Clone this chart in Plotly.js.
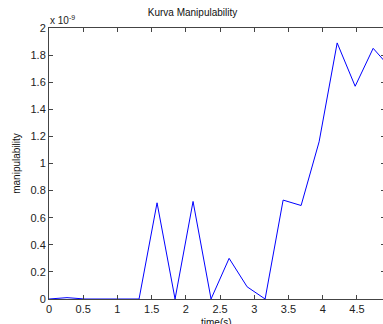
<!DOCTYPE html>
<html><head><meta charset="utf-8">
<script src="https://cdn.plot.ly/plotly-3.0.1.min.js"></script>
<style>html,body{margin:0;padding:0;overflow:hidden;background:#fff}</style>
</head><body><div id="chart"></div>
<script>
const timeS = [0, 0.263, 0.526, 0.789, 1.053, 1.316, 1.579, 1.842, 2.105, 2.368, 2.632, 2.895, 3.158, 3.421, 3.684, 3.947, 4.211, 4.474, 4.737, 5.0];
const manip = [0, 0.01, 0, 0, 0, 0, 0.71, 0, 0.72, 0, 0.30, 0.09, 0, 0.73, 0.69, 1.16, 1.89, 1.57, 1.85, 1.70];
const xTicks = [0, 0.5, 1, 1.5, 2, 2.5, 3, 3.5, 4, 4.5];
const xTickText = ['0', '0.5', '1', '1.5', '2', '2.5', '3', '3.5', '4', '4.5'];
const yTicks = [0, 0.2, 0.4, 0.6, 0.8, 1, 1.2, 1.4, 1.6, 1.8, 2];
const yTickText = ['0', '0.2', '0.4', '0.6', '0.8', '1', '1.2', '1.4', '1.6', '1.8', '2'];

const font = {family: 'Liberation Sans, Arial, sans-serif', size: 11, color: '#222'};
Plotly.newPlot('chart', [{
  x: timeS, y: manip, type: 'scatter', mode: 'lines',
  line: {color: '#0000ff', width: 1}, hoverinfo: 'none'
}], {
  width: 385, height: 324,
  margin: {l: 49, r: 0, t: 28, b: 25},
  paper_bgcolor: '#fff', plot_bgcolor: '#fff',
  font: font,
  showlegend: false,
  title: {text: 'Kurva Manipulability', font: {family: font.family, size: 10, color: '#111'}, x: 0.5, xanchor: 'center', y: 1, yanchor: 'top', pad: {t: 9}},
  xaxis: {range: [0, 4.91], tickvals: xTicks, ticktext: xTickText, ticks: 'inside', ticklen: 4, tickcolor: '#444',
    showline: true, linecolor: '#444', linewidth: 1, mirror: 'ticks', showgrid: false, zeroline: false,
    tickfont: {family: font.family, size: 11, color: '#222'}},
  yaxis: {range: [0, 2], tickvals: yTicks, ticktext: yTickText, ticks: 'inside', ticklen: 4, tickcolor: '#444',
    showline: true, linecolor: '#444', linewidth: 1, mirror: 'ticks', showgrid: false, zeroline: false,
    tickfont: {family: font.family, size: 11, color: '#222'},
    title: {text: 'manipulability', font: {family: font.family, size: 10, color: '#111'}, standoff: 8}},
  annotations: [
    {text: 'x 10<sup>-9</sup>', xref: 'paper', yref: 'paper', x: 0, y: 1, xanchor: 'left', yanchor: 'bottom',
      showarrow: false, font: {family: font.family, size: 10, color: '#222'}, xshift: -1, yshift: 0},
    {text: 'time(s)', xref: 'x', yref: 'paper', x: 2.45, y: 0, xanchor: 'center', yanchor: 'top',
      showarrow: false, font: {family: font.family, size: 10, color: '#111'}, yshift: -16}
  ]
}, {displayModeBar: false, staticPlot: true});
</script></body></html>
